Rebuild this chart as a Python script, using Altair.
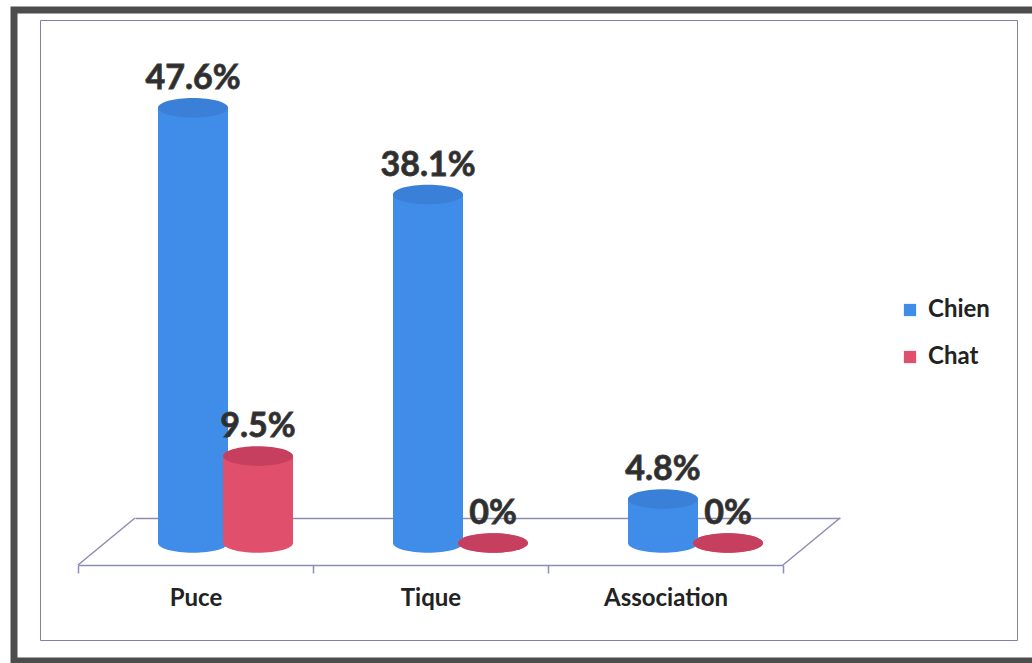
import altair as alt
import pandas as pd

# ---- data ----
categories = ["Puce", "Tique", "Association"]
series = ["Chien", "Chat"]
chien = [47.6, 38.1, 4.8]
chat = [9.5, 0.0, 0.0]

rows = []
for s, vals in zip(series, [chien, chat]):
    for c, v in zip(categories, vals):
        rows.append({"Categorie": c, "Animal": s, "value": v})
df = pd.DataFrame(rows)
one = pd.DataFrame({"k": [0]})

# ---- styles ----
BLUE = "#3f8de9"
RED = "#e0506c"
BLUE_TOP = "#3a7fd8"
RED_TOP = "#c63f5e"
FONT = "Lato"
EDGE = "#8c8cb8"
ELLIPSE = "M -1 0 A 1 0.28 0 1 1 1 0 A 1 0.28 0 1 1 -1 0 Z"

Y = alt.Scale(domain=[0, 55], range=[523, 20], nice=False, zero=True)
XBAR = alt.Scale(domain=categories, range=[68, 773], paddingInner=0, paddingOuter=0)
XOFF = alt.Scale(domain=series, paddingInner=0, paddingOuter=0.8077)

xb = alt.X("Categorie:N", scale=XBAR, axis=None)
xo = alt.XOffset("Animal:N", scale=XOFF)
yv = alt.Y("value:Q", scale=Y, axis=None)
y0 = alt.YDatum(0, type="quantitative", scale=Y, axis=None)

body_col = alt.condition(alt.datum.Animal == "Chien", alt.value(BLUE), alt.value(RED))
top_col = alt.condition(alt.datum.Animal == "Chien", alt.value(BLUE_TOP), alt.value(RED_TOP))

# ---- outer frame ----
frame = alt.Chart(one).mark_rect(fillOpacity=0, stroke="#4d4d4d", strokeWidth=7, clip=False).encode(
    x=alt.value(-26), x2=alt.value(1002), y=alt.value(-10), y2=alt.value(641)
)

# ---- floor (3D base) ----
back_edge = alt.Chart(df).mark_point(opacity=0).encode(
    x=alt.XDatum(0, type="quantitative",
                 scale=alt.Scale(domain=[0, 3], range=[95, 800], nice=False, zero=False),
                 axis=alt.Axis(orient="bottom", offset=-122, labels=False, ticks=False,
                               domain=True, domainColor=EDGE, domainWidth=1.5,
                               grid=False, title=None))
)
front_ticks = alt.Chart(df).mark_point(opacity=0).encode(
    x=alt.XDatum(0, type="quantitative",
                 scale=alt.Scale(domain=[0, 3], range=[38, 743], nice=False, zero=False),
                 axis=alt.Axis(orient="bottom", offset=-75, values=[0, 1, 2, 3], labels=False,
                               ticks=True, tickSize=8, tickColor=EDGE, tickWidth=1.5,
                               domain=True, domainColor=EDGE, domainWidth=1.5,
                               grid=False, title=None))
)
cat_labels = alt.Chart(df).mark_point(opacity=0).encode(
    x=alt.X("Categorie:N",
            scale=alt.Scale(domain=categories, range=[38, 743], paddingInner=0, paddingOuter=0),
            axis=alt.Axis(orient="bottom", offset=-75, domain=False, ticks=False, tickSize=0,
                          labelPadding=21, labelFont=FONT, labelFontSize=24,
                          labelFontWeight="bold", labelColor="#222222", labelAngle=0,
                          title=None, grid=False))
)
diag_left = alt.Chart(one).mark_rule(color=EDGE, strokeWidth=1.5).encode(
    x=alt.value(38), x2=alt.value(95), y=alt.value(545), y2=alt.value(498)
)
diag_right = alt.Chart(one).mark_rule(color=EDGE, strokeWidth=1.5).encode(
    x=alt.value(743), x2=alt.value(800), y=alt.value(545), y2=alt.value(498)
)

# ---- cylinders ----
bottom_ell = alt.Chart(df).mark_point(shape=ELLIPSE, size=4900, filled=True, opacity=1, strokeWidth=0).encode(
    x=xb, xOffset=xo, y=y0, color=body_col
)
bodies = alt.Chart(df).mark_bar(width=70).encode(
    x=xb, xOffset=xo, y=yv,
    color=alt.Color("Animal:N", scale=alt.Scale(domain=series, range=[BLUE, RED]),
                    legend=alt.Legend(orient="none", legendX=858, legendY=278, title=None,
                                      labelFont=FONT, labelFontSize=24, labelFontWeight="bold",
                                      labelColor="#222222", symbolType="square", symbolSize=150,
                                      symbolStrokeWidth=0, rowPadding=23, labelOffset=6,
                                      padding=0))
)
top_ell = alt.Chart(df).mark_point(shape=ELLIPSE, size=4900, filled=True, opacity=1, strokeWidth=0).encode(
    x=xb, xOffset=xo, y=yv, color=top_col
)
labels = alt.Chart(df).transform_calculate(
    label="datum.value == 0 ? '0%' : format(datum.value, '.1f') + '%'"
).mark_text(font=FONT, fontSize=34, fontWeight="bold", color="#2e2e2e",
            stroke="#3a3a3a", strokeWidth=0.8,
            baseline="alphabetic", dy=-19).encode(
    x=xb, xOffset=xo, y=yv, text="label:N"
)

chart = alt.layer(
    frame, back_edge, diag_left, diag_right, front_ticks, cat_labels,
    bottom_ell, bodies, top_ell, labels
).resolve_scale(x="independent").properties(
    width=977, height=620,
    autosize=alt.AutoSizeParams(type="none"),
    padding={"left": 40, "top": 20, "right": 15, "bottom": 23},
    background="white",
).configure_view(stroke="#8080a8", strokeWidth=1)

chart.save("out.html", embed_options={"renderer": "svg", "actions": False})
